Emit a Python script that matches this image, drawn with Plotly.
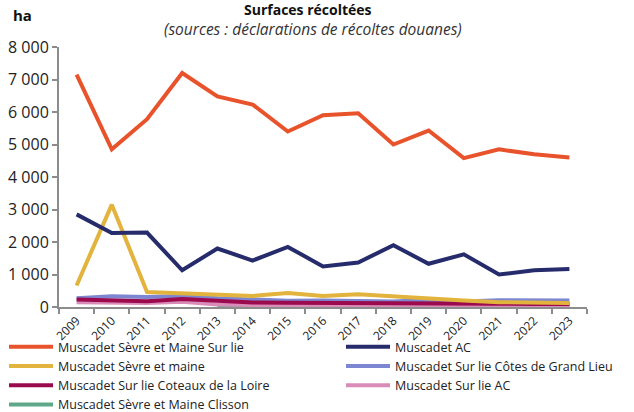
import plotly.graph_objects as go

years = [str(y) for y in range(2009, 2024)]

sevre_maine_sur_lie = [7150, 4850, 5780, 7200, 6480, 6230, 5400, 5900, 5960, 5000, 5430, 4580, 4850, 4700, 4600]
muscadet_ac = [2850, 2280, 2290, 1130, 1800, 1430, 1850, 1250, 1370, 1900, 1330, 1620, 1000, 1130, 1170]
sevre_maine = [660, 3150, 460, 430, 370, 340, 430, 340, 390, 320, 280, 200, 150, 130, 120]
cotes_grand_lieu = [270, 330, 310, 340, 270, 240, 190, 200, 200, 170, 220, 170, 210, 220, 200]
coteaux_loire = [230, 190, 180, 250, 190, 140, 130, 130, 120, 100, 100, 100, 100, 90, 90]
sur_lie_ac = [150, 130, 120, 160, 80, 60, 50, 50, 40, 40, 30, 20, 20, 20, 20]
clisson = [None, None, None, None, 40, 40, 40, 40, 40, 40, 40, 40, 40, 40, 40]

series_names = [
    "Muscadet Sèvre et Maine Sur lie",
    "Muscadet AC",
    "Muscadet Sèvre et maine",
    "Muscadet Sur lie Côtes de Grand Lieu",
    "Muscadet Sur lie Coteaux de la Loire",
    "Muscadet Sur lie AC",
    "Muscadet Sèvre et Maine Clisson",
]
series_values = [sevre_maine_sur_lie, muscadet_ac, sevre_maine, cotes_grand_lieu,
                 coteaux_loire, sur_lie_ac, clisson]
colors = ["#E8532B", "#262C6B", "#E2B43E", "#7D86D0", "#9B0A4D", "#D98CB8", "#5FA88A"]

y_tickvals = [0, 1000, 2000, 3000, 4000, 5000, 6000, 7000, 8000]
y_ticktext = ["0", "1 000", "2 000", "3 000", "4 000", "5 000", "6 000", "7 000", "8 000"]

FONT = "Open Sans, Lato, sans-serif"

L, R, T, B = 59, 47, 47, 105
W, H = 634, 412
pw = W - L - R
ph = H - T - B


def px(x):
    return (x - L) / pw


def py(y):
    return (H - B - y) / ph


fig = go.Figure()
draw_order = [6, 5, 3, 4, 2, 1, 0]
for i in draw_order:
    fig.add_trace(go.Scatter(
        x=years, y=series_values[i], name=series_names[i], mode="lines",
        line=dict(color=colors[i], width=4), legendrank=i + 1,
        legend="legend" if i % 2 == 0 else "legend2",
    ))

legend_common = dict(orientation="v", xanchor="left", yanchor="bottom",
                     traceorder="normal", font=dict(size=12.5, color="#222222"),
                     tracegroupgap=0, itemwidth=44, bgcolor="rgba(0,0,0,0)",
                     borderwidth=0)

fig.update_layout(
    width=W, height=H,
    margin=dict(l=L, r=R, t=T, b=B, autoexpand=False),
    paper_bgcolor="white", plot_bgcolor="white",
    font=dict(family=FONT, size=12, color="#222222"),
    showlegend=True,
    legend=dict(x=px(4), y=py(H + 7), **legend_common),
    legend2=dict(x=px(341), y=py(H + 7 - 19), **legend_common),
    xaxis=dict(type="category", showline=True, linecolor="#8c8c8c", linewidth=2,
               ticks="outside", ticklen=5, tickcolor="#8c8c8c", tickwidth=1.5,
               tickson="boundaries", tickangle=-45, showgrid=False, automargin=False,
               tickfont=dict(size=12, color="#222222"), range=[-0.5, 14.5]),
    yaxis=dict(range=[0, 8000], tickvals=y_tickvals, ticktext=y_ticktext,
               showline=True, linecolor="#8c8c8c", linewidth=2,
               ticks="outside", ticklen=5, tickcolor="#8c8c8c", tickwidth=1.5,
               showgrid=False, zeroline=False, automargin=False,
               tickfont=dict(size=16, color="#222222")),
    annotations=[
        dict(text="<b>Surfaces récoltées</b>", x=px(308), y=py(9), xref="paper", yref="paper",
             xanchor="center", yanchor="middle",
             showarrow=False, font=dict(size=14, color="#111111")),
        dict(text="<i>(sources : déclarations de récoltes douanes)</i>", x=px(313), y=py(29),
             xref="paper", yref="paper", xanchor="center", yanchor="middle",
             showarrow=False, font=dict(size=15.5, color="#333333")),
        dict(text="<b>ha</b>", x=px(22), y=py(15), xref="paper", yref="paper",
             xanchor="center", yanchor="middle",
             showarrow=False, font=dict(size=15, color="#111111")),
    ],
)

fig.write_html("out.html", config={"displayModeBar": False},
               post_script="document.body.style.margin='0';document.body.style.overflow='hidden';")
